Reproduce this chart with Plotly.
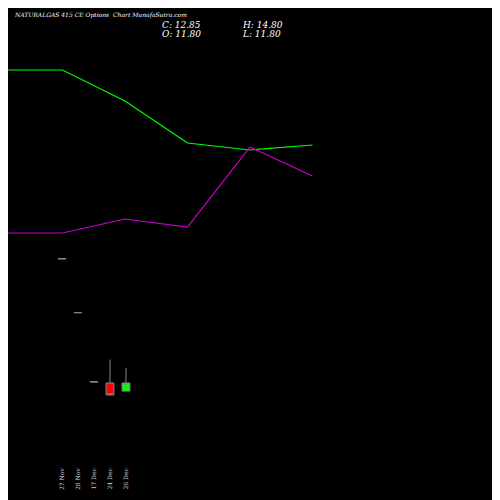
import plotly.graph_objects as go

dates = ['27 Nov', '28 Nov', '17 Dec', '24 Dec', '26 Dec']
opens = [29.0, 22.0, 13.0, 12.85, 11.80]
highs = [29.0, 22.0, 13.0, 15.9, 14.80]
lows = [29.0, 22.0, 13.0, 11.2, 11.80]
closes = [29.0, 22.0, 13.0, 11.3, 12.85]

# overlay lines (relative scale)
line_x = [0, 1, 2, 3, 4, 5]
green_line = [380, 380, 349, 307, 300, 305]
magenta_line = [217, 217, 231, 223, 303, 274]

idx = list(range(len(dates)))
fig = go.Figure()
fig.add_trace(go.Candlestick(
    x=idx, open=opens, high=highs, low=lows, close=closes,
    increasing=dict(line=dict(color='#888888', width=1), fillcolor='#00ff00'),
    decreasing=dict(line=dict(color='#888888', width=1), fillcolor='#ff0000'),
    whiskerwidth=0, showlegend=False))
fig.add_trace(go.Scatter(x=line_x, y=green_line, mode='lines', xaxis='x2', yaxis='y2',
                         line=dict(color='#00ff00', width=1.2), showlegend=False))
fig.add_trace(go.Scatter(x=line_x, y=magenta_line, mode='lines', xaxis='x2', yaxis='y2',
                         line=dict(color='#cc00cc', width=1.2), showlegend=False))

fig.update_layout(
    width=500, height=500, paper_bgcolor='black', plot_bgcolor='black',
    margin=dict(l=0, r=0, t=0, b=42),
    font=dict(family='DejaVu Serif', color='white', size=7),
    xaxis=dict(range=[-3.375, 27.875], tickvals=idx, ticktext=dates, tickangle=-90,
               showgrid=False, zeroline=False, rangeslider=dict(visible=False),
               tickfont=dict(size=6, color='#cccccc')),
    yaxis=dict(range=[2.06, 61.6], showgrid=False, zeroline=False, showticklabels=False),
    xaxis2=dict(range=[0.128, 8.128], overlaying='x', visible=False),
    yaxis2=dict(range=[-16, 442], overlaying='y', visible=False),
)
fig.add_annotation(text='<i>NATURALGAS 415 CE Options  Chart MunafaSutra.com</i>', x=4/500, y=1 - 7/458,
                   xref='paper', yref='paper', showarrow=False, xanchor='left', yanchor='middle',
                   font=dict(size=6))
for txt, px, py in [('C: 12.85', 152, 17), ('O: 11.80', 152, 26), ('H: 14.80', 232, 17), ('L: 11.80', 232, 26)]:
    fig.add_annotation(text='<i>' + txt + '</i>', x=px/500, y=1 - py/458, xref='paper', yref='paper',
                       showarrow=False, xanchor='left', yanchor='middle', font=dict(size=9))
fig.write_html('out.html')
